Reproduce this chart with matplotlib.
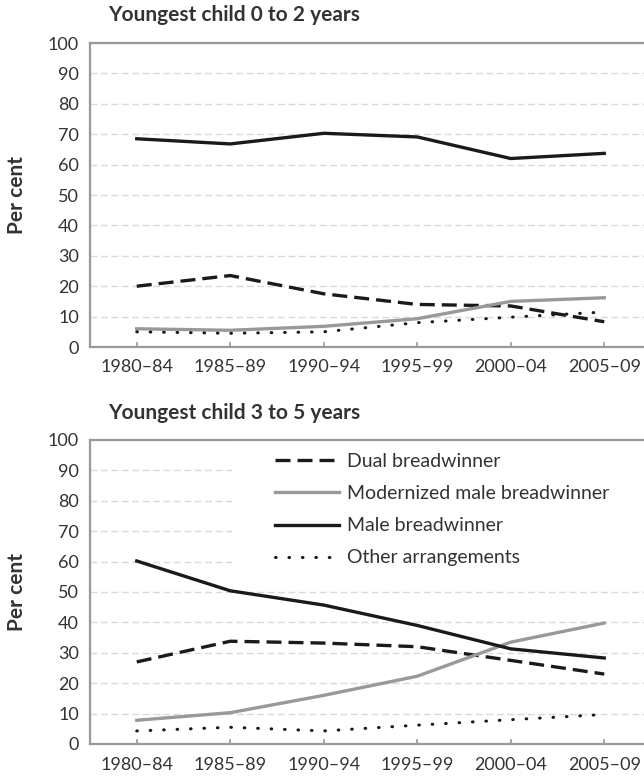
import matplotlib
matplotlib.use("Agg")
import matplotlib.pyplot as plt
from matplotlib.patches import Rectangle

# ==============================
# DATA
# ==============================
PERIODS = ["1980–84", "1985–89", "1990–94", "1995–99", "2000–04", "2005–09"]

# youngest child 0 to 2 years
dual_02 = [20.0, 23.5, 17.5, 14.0, 13.5, 8.3]
modern_02 = [6.0, 5.5, 6.8, 9.3, 15.0, 16.2]
male_02 = [68.5, 66.8, 70.3, 69.1, 62.0, 63.7]
other_02 = [5.0, 4.5, 5.0, 8.0, 9.8, 11.5]

# youngest child 3 to 5 years
dual_35 = [27.0, 33.8, 33.2, 32.0, 27.5, 23.0]
modern_35 = [7.8, 10.3, 16.0, 22.3, 33.5, 39.8]
male_35 = [60.2, 50.4, 45.7, 39.0, 31.3, 28.3]
other_35 = [4.3, 5.5, 4.3, 6.2, 8.0, 9.7]

plt.rcParams['font.family'] = ['Lato', 'DejaVu Sans']
plt.rcParams['text.color'] = '#333333'
plt.rcParams['axes.labelcolor'] = '#333333'
plt.rcParams['xtick.color'] = '#333333'
plt.rcParams['ytick.color'] = '#333333'

SPINE = "#999999"
GRID = "#dadada"
W, H = 644, 779


def style_axes(ax, title, title_y):
    ax.set_xlim(-0.5, 5.5)
    ax.set_ylim(0, 100)
    ax.set_yticks(range(0, 101, 10))
    ax.set_xticks(range(len(PERIODS)))
    ax.set_xticklabels(PERIODS)
    ax.tick_params(axis='x', direction='in', length=3.6, width=1.2,
                   color=SPINE, labelsize=13, pad=9)
    ax.tick_params(axis='y', length=0, labelsize=13, pad=8)
    ax.yaxis.grid(True, linestyle=(0, (5, 2.5)), color=GRID, lw=1)
    ax.set_axisbelow(True)
    for s in ax.spines.values():
        s.set_color(SPINE)
        s.set_linewidth(1.6)
    ax.set_ylabel("Per cent", fontsize=15, fontweight="bold")
    ax.yaxis.set_label_coords((27 - 90) / 561, 0.5)
    ax.figure.text(108 / W, 1 - title_y / H, title,
                   fontsize=15, fontweight="bold", va="center")


def draw(ax, dual, modern, male, other):
    x = range(len(PERIODS))
    ax.plot(x, dual, color="#1a1a1a", lw=2.4, ls=(0, (4.5, 2.1)),
            label="Dual breadwinner")
    ax.plot(x, modern, color="#999999", lw=2.4,
            label="Modernized male breadwinner")
    ax.plot(x, male, color="#1a1a1a", lw=2.4, label="Male breadwinner")
    ax.plot(x, other, color="#1a1a1a", lw=2.2, ls=(0, (0.2, 4.2)),
            dash_capstyle="round", label="Other arrangements")


fig = plt.figure(figsize=(W / 100, H / 100), dpi=100)
ax1 = fig.add_axes([90 / W, 1 - 347 / H, 561 / W, 304 / H])
ax2 = fig.add_axes([90 / W, 1 - 744 / H, 561 / W, 304 / H])

draw(ax1, dual_02, modern_02, male_02, other_02)
draw(ax2, dual_35, modern_35, male_35, other_35)
style_axes(ax1, "Youngest child 0 to 2 years", 15)
style_axes(ax2, "Youngest child 3 to 5 years", 413)

# white patch behind the legend that hides the grid
ax2.add_patch(Rectangle(((232 - 90) / 561, (744 - 578) / 304), 1.0, 1.0,
                        transform=ax2.transAxes, facecolor="white",
                        edgecolor="none", zorder=1))

leg = ax2.legend(loc="upper left", bbox_to_anchor=(275 / W, 1 - 453 / H),
                 bbox_transform=fig.transFigure, fontsize=14,
                 handlelength=3.3, handletextpad=0.4, labelspacing=0.78,
                 frameon=False, borderpad=0, borderaxespad=0)

fig.savefig("out.png", dpi=100)
